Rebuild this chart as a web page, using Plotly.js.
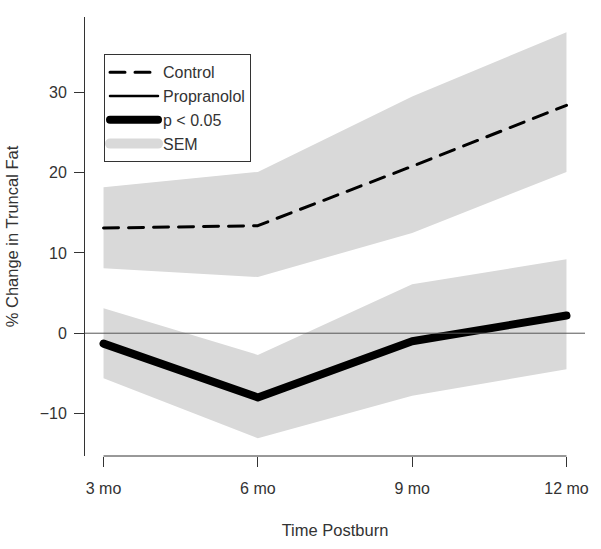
<!DOCTYPE html>
<html>
<head>
<meta charset="utf-8">
<script src="https://cdn.plot.ly/plotly-3.0.1.min.js"></script>
<style>
  html, body { margin: 0; padding: 0; background: #fff; }
  #chart { width: 601px; height: 549px; }
  .scatterlayer path.js-line, .legend path.js-line { stroke-linecap: round; stroke-linejoin: round; }
</style>
</head>
<body>
<div id="chart"></div>
<script>
// Time points (months postburn) and labels
const months = [3, 6, 9, 12];
const monthLabels = ["3 mo", "6 mo", "9 mo", "12 mo"];

// Control group: mean % change and SEM band
const controlMean  = [13.1, 13.4, 20.8, 28.4];
const controlUpper = [18.2, 20.1, 29.5, 37.5];
const controlLower = [8.1, 7.0, 12.5, 20.1];

// Propranolol group: mean % change and SEM band
const propMean  = [-1.3, -8.0, -1.0, 2.2];
const propUpper = [3.1, -2.7, 6.1, 9.2];
const propLower = [-5.6, -13.1, -7.8, -4.5];

// Significance (p < 0.05) at each time point for propranolol
const propSig = [true, true, true, true];

const yTicks = [-10, 0, 10, 20, 30];

const bandColor = "rgb(217,217,217)";
const ink = "#333";

// Build the significant segments overlay
const sigX = [], sigY = [];
for (let i = 0; i < months.length; i++) {
  if (propSig[i]) { sigX.push(months[i]); sigY.push(propMean[i]); }
  else { sigX.push(null); sigY.push(null); }
}

const traces = [
  { x: months, y: controlLower, mode: "lines", line: {width: 0, color: bandColor}, showlegend: false, hoverinfo: "skip" },
  { x: months, y: controlUpper, mode: "lines", line: {width: 0, color: bandColor}, fill: "tonexty", fillcolor: bandColor, showlegend: false, hoverinfo: "skip" },
  { x: months, y: propLower, mode: "lines", line: {width: 0, color: bandColor}, showlegend: false, hoverinfo: "skip" },
  { x: months, y: propUpper, mode: "lines", line: {width: 0, color: bandColor}, fill: "tonexty", fillcolor: bandColor, showlegend: false, hoverinfo: "skip" },
  { x: months, y: controlMean, mode: "lines", name: "Control", line: {color: "#000", width: 3, dash: "15px,10px"} },
  { x: months, y: propMean, mode: "lines", name: "Propranolol", line: {color: "#000", width: 2.5} },
  { x: sigX, y: sigY, mode: "lines", name: "p < 0.05", line: {color: "#000", width: 8}, connectgaps: false },
  { x: [null], y: [null], mode: "lines", name: "SEM", line: {color: bandColor, width: 16} }
];

const layout = {
  width: 601, height: 549,
  margin: {l: 84, r: 15, t: 17, b: 92},
  paper_bgcolor: "#fff", plot_bgcolor: "#fff",
  font: {family: "Liberation Sans, Arial, sans-serif", size: 16, color: ink},
  showlegend: true,
  legend: {
    x: 0.038, y: 0.915, xanchor: "left", yanchor: "top",
    bordercolor: "#333", borderwidth: 1, bgcolor: "#fff",
    font: {size: 16, color: ink}, itemwidth: 48, tracegroupgap: 0,
    traceorder: "normal"
  },
  xaxis: {
    range: [2.64, 12.36], showgrid: false, zeroline: false, showline: false,
    tickmode: "array", tickvals: months, ticktext: monthLabels,
    ticks: "outside", ticklen: 10, tickcolor: ink, tickwidth: 1,
    ticklabelstandoff: 8, automargin: true,
    title: {text: "Time Postburn", font: {size: 16.5, color: ink}, standoff: 28}
  },
  yaxis: {
    range: [-15.3, 39.4], showgrid: false, zeroline: false,
    showline: true, linecolor: ink, linewidth: 1,
    tickmode: "array", tickvals: yTicks,
    ticks: "outside", ticklen: 10, tickcolor: ink, tickwidth: 1,
    ticklabelstandoff: 4, automargin: true,
    title: {text: "% Change in Truncal Fat", font: {size: 16.5, color: ink}, standoff: 16}
  },
  shapes: [
    { type: "line", xref: "x", yref: "paper", x0: months[0], x1: months[months.length - 1], y0: 0, y1: 0, line: {color: ink, width: 1} },
    { type: "line", xref: "paper", yref: "y", x0: 0, x1: 1, y0: 0, y1: 0, line: {color: "#555", width: 1}, layer: "above" }
  ]
};

Plotly.newPlot("chart", traces, layout, {displayModeBar: false, staticPlot: true});
</script>
</body>
</html>
